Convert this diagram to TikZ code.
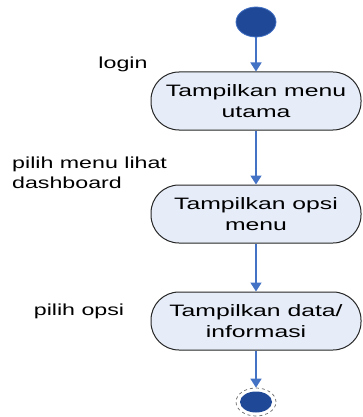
\documentclass[tikz,border=0pt]{standalone}
\usepackage{fontspec}
\setmainfont{Liberation Sans}[FakeStretch=1.45]
\newfontfamily\actfont{Liberation Sans}[FakeStretch=1.5]
\usetikzlibrary{arrows.meta,shapes.geometric}
\definecolor{arrowblue}{RGB}{68,114,196}
\definecolor{nodefill}{RGB}{230,236,248}
\definecolor{navy}{RGB}{31,72,150}
\begin{document}
\begin{tikzpicture}[x=1pt,y=-1pt,
  act/.style={draw=black!85, line width=1pt, fill=nodefill, rounded corners=28pt,
    minimum width=210pt, minimum height=58pt, align=center,
    font=\actfont\fontsize{16.5}{20.5}\selectfont, inner sep=0pt},
  flow/.style={draw=arrowblue, line width=1.6pt, -{Triangle[length=9pt,width=11pt]}},
  lbl/.style={font=\fontsize{16}{20}\selectfont, align=left, inner sep=0pt},
  startnode/.style={ellipse, fill=navy, draw=arrowblue, line width=0.8pt,
    minimum width=40pt, minimum height=30pt, inner sep=0pt},
  endring/.style={ellipse, draw=black!60, dashed, line width=0.7pt, fill=white,
    minimum width=40pt, minimum height=28pt, inner sep=0pt},
  endcore/.style={ellipse, fill=navy, minimum width=32pt, minimum height=21pt, inner sep=0pt}]
\useasboundingbox (0,0) rectangle (362,417);
\node[startnode] (start) at (256,22) {};
\node[act] (a1) at (256,101) {Tampilkan menu\\utama};
\node[act] (a2) at (256,214) {Tampilkan opsi\\menu};
\node[act] (a3) at (256,321) {Tampilkan data/\\informasi};
\node[endring] (end) at (256,402) {};
\node[endcore] (endc) at (end.center) {};
\node[lbl] (l1) at (123,64) {login};
\node[lbl, anchor=west] (l2) at (12,173) {pilih menu lihat\\dashboard};
\node[lbl] (l3) at (79,311) {pilih opsi};
\draw[flow] (start) -- (a1);
\draw[flow] (a1) -- (a2);
\draw[flow] (a2) -- (a3);
\draw[flow] (a3) -- (end);
\end{tikzpicture}
\end{document}
